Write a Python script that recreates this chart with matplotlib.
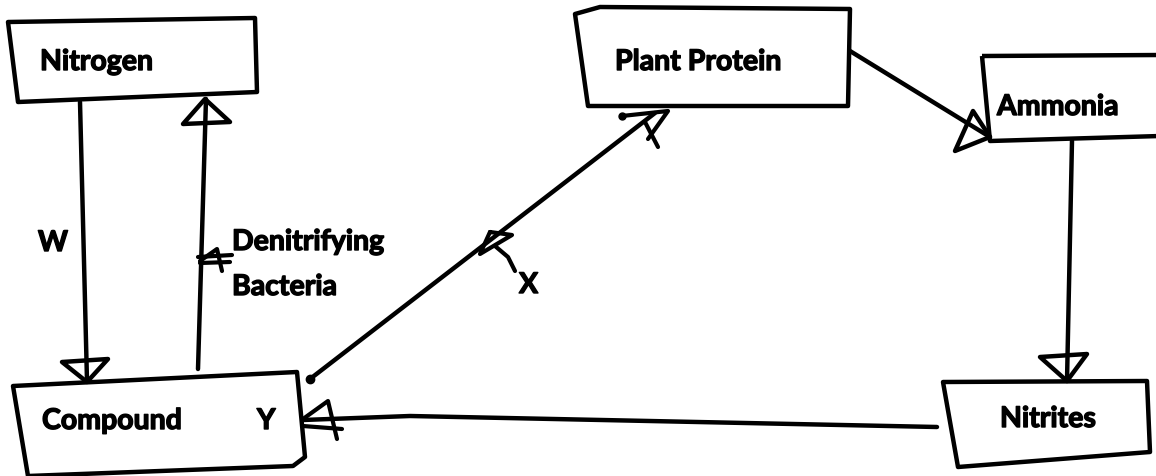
import matplotlib.pyplot as plt
from matplotlib.patches import Polygon
import matplotlib.patheffects as pe

# boxes (pixel coords, y measured downwards like the scan)
box_names = ['Nitrogen', 'Compound', 'Plant Protein', 'Ammonia', 'Nitrites']
box_corners = [
    [(8, 23), (255, 19), (257, 93), (18, 103)],
    [(13, 387), (297, 373), (305, 458), (293, 467), (28, 477)],
    [(575, 15), (600, 8), (850, 10), (848, 107), (588, 107)],
    [(982, 57), (1160, 56), (1160, 137), (990, 142)],
    [(943, 383), (1147, 382), (1150, 453), (958, 468)],
]
box_text_pos = [(40, 63), (42, 422), (615, 63), (997, 108), (1000, 420)]

extra_labels = ['W', 'Denitrifying', 'Bacteria', 'X', 'Y']
extra_pos = [(38, 244), (232, 243), (232, 288), (519, 286), (257, 422)]

# connecting strokes
lines = [
    [(80, 103), (87, 382)],       # Nitrogen -> Compound (W)
    [(198, 370), (206, 100)],     # Compound -> Nitrogen (bacteria)
    [(310, 380), (655, 114)],     # Compound -> Plant Protein (X)
    [(850, 52), (990, 138)],      # Plant Protein -> Ammonia
    [(1072, 142), (1067, 382)],   # Ammonia -> Nitrites
    [(937, 428), (410, 417), (303, 421)],  # Nitrites -> Compound Y
]
# open triangle heads
heads = [
    [(62, 363), (108, 360), (87, 383)],
    [(183, 125), (230, 123), (205, 100)],
    [(973, 112), (955, 152), (990, 138)],
    [(1040, 358), (1087, 355), (1067, 382)],
]
# loose hand strokes (arrow marks drawn on the lines)
strokes = [
    [(200, 262), (217, 250), (222, 272)],           # mark on bacteria arrow
    [(198, 258), (232, 256)],
    [(200, 264), (230, 263)],
    [(490, 233), (512, 236), (480, 255), (490, 233)],  # mark near X
    [(495, 247), (508, 258), (515, 272)],
    [(622, 117), (668, 112), (648, 140)],           # mark at Plant Protein
    [(645, 123), (658, 148)],
    [(303, 420), (328, 402), (337, 440)],           # mark at Compound Y
    [(303, 427), (342, 430)],
]

fig = plt.figure(figsize=(11.56, 4.77), dpi=100)
ax = fig.add_axes([0, 0, 1, 1])
ax.set_xlim(0, 1156)
ax.set_ylim(477, 0)
ax.axis('off')

bold = [pe.withStroke(linewidth=1.0, foreground='black')]
for corners in box_corners:
    ax.add_patch(Polygon(corners, closed=True, fill=False, ec='black', lw=3.2,
                         joinstyle='round'))
for name, (x, y) in zip(box_names + extra_labels, box_text_pos + extra_pos):
    ax.text(x, y, name, fontsize=20.5, fontweight='bold', family='Lato',
            va='center', ha='left', path_effects=bold)

for pts in lines:
    ax.plot([p[0] for p in pts], [p[1] for p in pts], color='black', lw=3.2,
            solid_capstyle='round', solid_joinstyle='round')
for h in heads:
    ax.add_patch(Polygon(h, closed=True, fill=False, ec='black', lw=3.2,
                         joinstyle='round'))
for pts in strokes:
    ax.plot([p[0] for p in pts], [p[1] for p in pts], color='black', lw=3,
            solid_capstyle='round', solid_joinstyle='round')

# blob where the pen started on the Compound -> Plant Protein line
ax.plot([310], [380], 'o', color='black', ms=6)
ax.plot([622], [117], 'o', color='black', ms=5)

fig.savefig('out.png', dpi=100, facecolor='white')
